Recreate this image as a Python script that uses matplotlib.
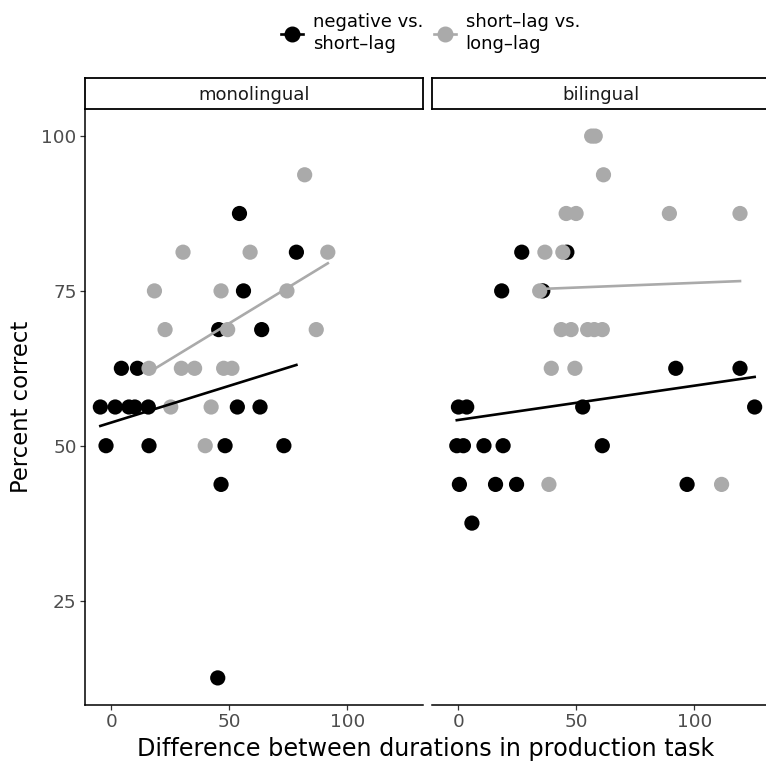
import numpy as np
import matplotlib
matplotlib.use('Agg')
import matplotlib.pyplot as plt
from matplotlib.lines import Line2D

# Data (x = duration difference, y = percent correct)
mono_neg_x = [54.3, 78.4, 56.0, 45.5, 63.7, 4.3, 11.1,
              -4.6, 1.7, 7.5, 10.0, 15.7, 53.4, 63.0,
              -2.2, 16.0, 48.2, 73.1, 46.5, 45.1]
mono_neg_y = [87.5, 81.25, 75, 68.75, 68.75, 62.5, 62.5,
              56.25, 56.25, 56.25, 56.25, 56.25, 56.25, 56.25,
              50, 50, 50, 50, 43.75, 12.5]

mono_lag_x = [81.9, 30.4, 58.8, 91.7, 18.3, 46.5, 74.4,
              22.8, 49.3, 86.8, 16.0, 29.7, 35.3, 47.6, 51.1,
              25.2, 42.3, 39.8]
mono_lag_y = [93.75, 81.25, 81.25, 81.25, 75, 75, 75,
              68.75, 68.75, 68.75, 62.5, 62.5, 62.5, 62.5, 62.5,
              56.25, 56.25, 50]

bi_neg_x = [26.9, 46.0, 18.4, 35.8, 92.1, 119.3,
            0.1, 3.6, 52.7, 125.5,
            -0.6, 2.2, 10.9, 19.0, 61.0,
            0.5, 15.8, 24.7, 96.9, 5.8]
bi_neg_y = [81.25, 81.25, 75, 75, 62.5, 62.5,
            56.25, 56.25, 56.25, 56.25,
            50, 50, 50, 50, 50,
            43.75, 43.75, 43.75, 43.75, 37.5]

bi_lag_x = [56.5, 58.0, 61.5, 45.7, 49.9, 89.4, 119.3,
            36.7, 44.3, 34.5, 43.6, 47.8, 54.8, 57.6, 61.0,
            39.4, 49.4, 38.4, 111.5]
bi_lag_y = [100, 100, 93.75, 87.5, 87.5, 87.5, 87.5,
            81.25, 81.25, 75, 68.75, 68.75, 68.75, 68.75, 68.75,
            62.5, 62.5, 43.75, 43.75]

panels = ['monolingual', 'bilingual']
series = {
    'monolingual': [(mono_neg_x, mono_neg_y), (mono_lag_x, mono_lag_y)],
    'bilingual': [(bi_neg_x, bi_neg_y), (bi_lag_x, bi_lag_y)],
}
labels = ['negative vs.\nshort\u2013lag', 'short\u2013lag vs.\nlong\u2013lag']
colors = ['black', '#AAAAAA']

W, H = 766, 764
fig = plt.figure(figsize=(W / 100, H / 100), dpi=100)

panel_w = 338 / W
panel_h = 596 / H
panel_b = (H - 705) / H
lefts = [85 / W, 432 / W]
strip_h = 31 / H

xlim = (-11.1, 132.0)
ylim = (8.125, 104.375)

for i, name in enumerate(panels):
    ax = fig.add_axes([lefts[i], panel_b, panel_w, panel_h])
    for (xs, ys), col in zip(series[name], colors):
        ax.scatter(xs, ys, s=120, color=col, edgecolors='none', zorder=2)
    # linear fit per group, over that group's x range
    for (xs, ys), col in zip(series[name], colors):
        xs = np.array(xs)
        slope, icpt = np.polyfit(xs, ys, 1)
        xx = np.array([xs.min(), xs.max()])
        ax.plot(xx, slope * xx + icpt, color=col, lw=1.9, zorder=3)
    ax.set_xlim(xlim)
    ax.set_ylim(ylim)
    ax.set_xticks([0, 50, 100])
    ax.set_yticks([25, 50, 75, 100])
    for s in ['top', 'right']:
        ax.spines[s].set_visible(False)
    ax.spines['bottom'].set_linewidth(1.1)
    ax.spines['left'].set_linewidth(1.1)
    ax.tick_params(colors='#333333', labelcolor='#4D4D4D', labelsize=13.3,
                   length=3.5, width=0.9, pad=2.5)
    if i == 0:
        ax.set_ylabel('Percent correct', fontsize=16.3, labelpad=6)
    else:
        ax.spines['left'].set_visible(False)
        ax.tick_params(axis='y', left=False, labelleft=False)

    # facet strip
    sax = fig.add_axes([lefts[i], panel_b + panel_h, panel_w, strip_h])
    sax.set_xticks([])
    sax.set_yticks([])
    for s in sax.spines.values():
        s.set_linewidth(1.3)
    sax.text(0.5, 0.45, name, ha='center', va='center', fontsize=13,
             color='#1A1A1A', transform=sax.transAxes)

fig.text(425.5 / W, 3 / H,
         'Difference between durations in production task',
         ha='center', va='bottom', fontsize=17.2)

handles = [Line2D([], [], color=c, marker='o', markersize=10.5, lw=1.9)
           for c in colors]
leg = fig.legend(handles, labels, loc='center', bbox_to_anchor=(0.562, 0.957),
                 ncol=2, frameon=False, fontsize=13, handlelength=1.2,
                 handletextpad=0.55, columnspacing=0.6, labelspacing=0.2)
for t in leg.get_texts():
    t.set_linespacing(1.3)

fig.savefig('out.png', dpi=100)
